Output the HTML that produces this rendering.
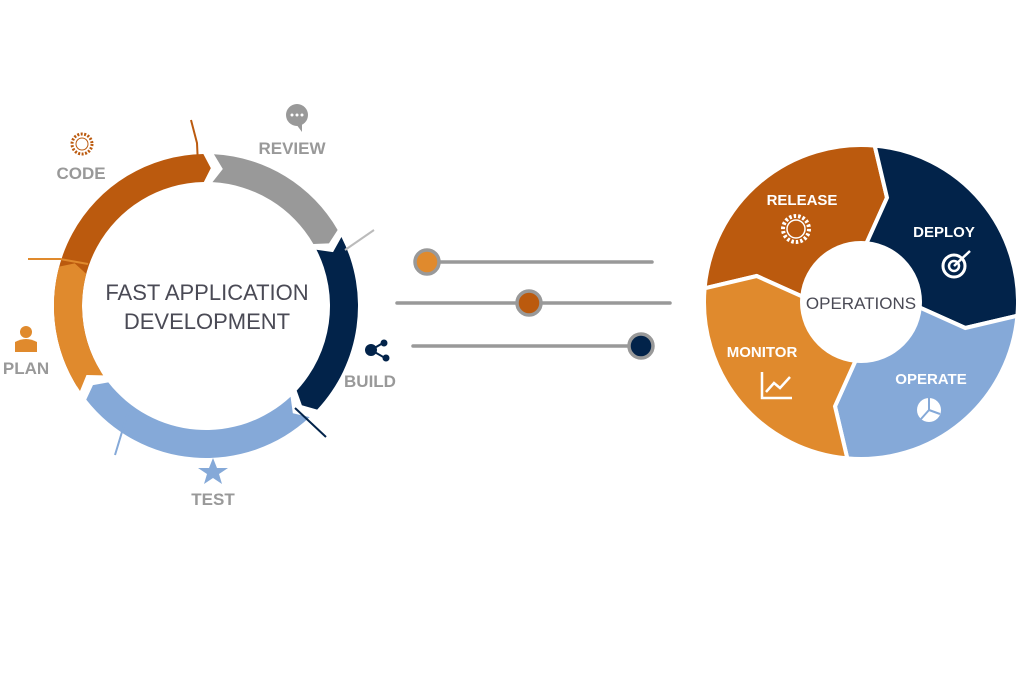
<!DOCTYPE html>
<html><head><meta charset="utf-8"><style>
html,body{margin:0;padding:0;background:#fff;}
svg{display:block;font-family:"Liberation Sans",sans-serif;}
</style></head><body>
<svg id="s" width="1016" height="700" viewBox="0 0 1016 700" xmlns="http://www.w3.org/2000/svg">
<g id="left"></g>
<g id="right"></g>
<path d="M191,120 L197,143 L198,165" stroke="#BB5A0E" stroke-width="2" fill="none"/>
<path d="M374,230 L345,250" stroke="#BBB" stroke-width="2" fill="none"/>
<path d="M295,408 L326,437" stroke="#02234A" stroke-width="2" fill="none"/>
<path d="M115,455 L125,422 L130,408" stroke="#85A9D8" stroke-width="2" fill="none"/>
<path d="M28,259 L60,259 L88,264" stroke="#E08A2D" stroke-width="2" fill="none"/>
<text x="207" y="300" font-size="22" fill="#4a4a55" text-anchor="middle">FAST APPLICATION</text>
<text x="207" y="329" font-size="22" fill="#4a4a55" text-anchor="middle">DEVELOPMENT</text>
<g font-weight="bold" font-size="17" fill="#999" text-anchor="middle">
<text x="81" y="179">CODE</text>
<text x="292" y="154">REVIEW</text>
<text x="370" y="387">BUILD</text>
<text x="213" y="505">TEST</text>
<text x="26" y="374">PLAN</text>
</g>
<circle cx="82" cy="144" r="10" fill="none" stroke="#BB5A0E" stroke-width="3" stroke-dasharray="2 1.5"/>
<circle cx="82" cy="144" r="6" fill="none" stroke="#BB5A0E" stroke-width="1"/>
<circle cx="297" cy="115" r="11" fill="#999"/>
<path d="M296,124 L302,132 L302,122Z" fill="#999"/>
<circle cx="292" cy="115" r="1.5" fill="#fff"/><circle cx="297" cy="115" r="1.5" fill="#fff"/><circle cx="302" cy="115" r="1.5" fill="#fff"/>
<circle cx="26" cy="332" r="6" fill="#E08A2D"/>
<path d="M15,352 L15,342 Q26,336 37,342 L37,352Z" fill="#E08A2D"/>
<path d="M371,350 L383,343 M371,350 L385,358" stroke="#02234A" stroke-width="2"/>
<circle cx="371" cy="350" r="6" fill="#02234A"/><circle cx="384" cy="343" r="3.5" fill="#02234A"/><circle cx="386" cy="358" r="3.5" fill="#02234A"/>
<polygon points="213,458 217,468 228,468 219,474 222,484 213,478 204,484 207,474 198,468 209,468" fill="#85A9D8"/>
<g stroke="#999" stroke-width="3.5" stroke-linecap="round">
<line x1="427" y1="262" x2="652" y2="262"/>
<line x1="397" y1="303" x2="670" y2="303"/>
<line x1="413" y1="346" x2="641" y2="346"/>
</g>
<circle cx="427" cy="262" r="12" fill="#E08A2D" stroke="#999" stroke-width="3.5"/>
<circle cx="529" cy="303" r="12" fill="#BB5A0E" stroke="#999" stroke-width="3.5"/>
<circle cx="641" cy="346" r="12" fill="#02234A" stroke="#999" stroke-width="3.5"/>
<circle cx="861" cy="302" r="61" fill="#fff"/>
<text x="861" y="309" font-size="17" fill="#4a4a55" text-anchor="middle">OPERATIONS</text>
<g font-weight="bold" font-size="15" fill="#fff" text-anchor="middle">
<text x="802" y="205">RELEASE</text>
<text x="944" y="237">DEPLOY</text>
<text x="931" y="384">OPERATE</text>
<text x="762" y="357">MONITOR</text>
</g>
<circle cx="796" cy="229" r="13" fill="none" stroke="#fff" stroke-width="4" stroke-dasharray="2.5 2"/>
<circle cx="796" cy="229" r="9" fill="none" stroke="#fff" stroke-width="1.5"/>
<circle cx="954" cy="266" r="11" fill="none" stroke="#fff" stroke-width="3"/>
<circle cx="954" cy="266" r="5" fill="none" stroke="#fff" stroke-width="2.5"/>
<path d="M954,266 L970,251" stroke="#fff" stroke-width="2.5"/>
<path d="M762,372 L762,398 L792,398 M766,392 L774,383 L780,388 L790,377" stroke="#fff" stroke-width="2.5" fill="none"/>
<circle cx="929" cy="410" r="12" fill="#fff"/>
<path d="M929,410 L929,398 M929,410 L940,414 M929,410 L921,419" stroke="#85A9D8" stroke-width="2"/>
</svg>
<script>
var NS="http://www.w3.org/2000/svg";
function P(cx,cy,r,a){var t=(a-90)*Math.PI/180;return [cx+r*Math.cos(t),cy+r*Math.sin(t)];}
function arc(cx,cy,R,r,a0,a1,col,g){
 var p1=P(cx,cy,R,a0),p2=P(cx,cy,R,a1),p3=P(cx,cy,r,a1),p4=P(cx,cy,r,a0),pm=P(cx,cy,(R+r)/2,a0+4);
 var lg=(a1-a0)>180?1:0;
 var d="M"+p1+" A"+R+","+R+" 0 "+lg+" 1 "+p2+" L"+P(cx,cy,(R+r)/2,a1+3)+" L"+p3+" A"+r+","+r+" 0 "+lg+" 0 "+p4+" L"+pm+"Z";
 var e=document.createElementNS(NS,"path");e.setAttribute("d",d);e.setAttribute("fill",col);g.appendChild(e);}
var L=document.getElementById("left");
arc(206,306,152,124,-122,-1,"#BB5A0E",L);
arc(206,306,152,124,3,60,"#999999",L);
arc(206,306,152,124,63,133,"#02234A",L);
arc(206,306,152,124,137,232,"#85A9D8",L);
arc(206,306,152,124,236,285,"#E08A2D",L);
var R=document.getElementById("right");
function seg(a0,a1,col){
 var cx=861,cy=302,Ro=157,ri=58;
 var d="M"+P(cx,cy,Ro,a0)+" A"+Ro+","+Ro+" 0 0 1 "+P(cx,cy,Ro,a1)+" L"+P(cx,cy,(Ro+ri)/2,a1+9)+" L"+P(cx,cy,ri,a1)+" A"+ri+","+ri+" 0 0 0 "+P(cx,cy,ri,a0)+" L"+P(cx,cy,(Ro+ri)/2,a0+9)+"Z";
 var e=document.createElementNS(NS,"path");e.setAttribute("d",d);e.setAttribute("fill",col);e.setAttribute("stroke","#fff");e.setAttribute("stroke-width","4");e.setAttribute("stroke-linejoin","miter");R.appendChild(e);}
seg(-85,5,"#BB5A0E");
seg(5,95,"#02234A");
seg(95,185,"#85A9D8");
seg(185,275,"#E08A2D");
</script>
</body></html>
